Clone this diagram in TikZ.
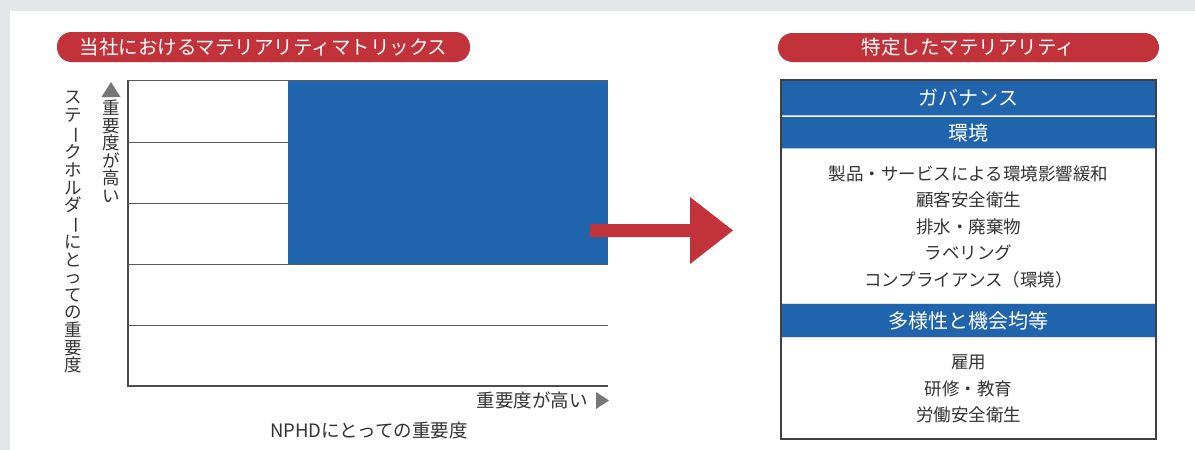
\documentclass[tikz,border=0pt]{standalone}
\usepackage{fontspec}
\newfontfamily\jp{Noto Sans CJK JP}
\definecolor{bgGray}{HTML}{E5E6E8}
\definecolor{hdRed}{HTML}{C1323A}
\definecolor{mBlue}{HTML}{2064AE}
\definecolor{txt}{HTML}{333333}
\definecolor{lineGray}{HTML}{5A5A5A}
\definecolor{triGray}{HTML}{777777}
\definecolor{sepBlue}{HTML}{A9C4E4}
\tikzset{
  pill/.style={fill=hdRed, rounded corners=14.5pt},
  pilltext/.style={text=white, font={\jp\fontsize{19.5}{20}\selectfont}, inner sep=0pt},
  band/.style={fill=mBlue},
  bandtext/.style={text=white, font={\jp\fontsize{20}{20}\selectfont}, inner sep=0pt},
  itemtext/.style={text=txt, font={\jp\fontsize{17.5}{18}\selectfont}, inner sep=0pt},
  gridline/.style={draw=lineGray, line width=0.8pt},
  axisline/.style={draw=lineGray!85!black, line width=1.1pt},
  vtext/.style={text=txt, align=center, inner sep=0pt},
}
\newcommand{\vbar}{\rotatebox[origin=c]{-90}{ー}}
\begin{document}
\begin{tikzpicture}[x=1pt,y=-1pt]
\useasboundingbox (0,0) rectangle (1195,450);
\fill[bgGray] (0,0) rectangle (1195,450);
\fill[white] (10,11) rectangle (1195,450);

% ---- left header ----
\fill[pill] (57,32) rectangle (470,62);
\node[pilltext] (lhead) at (263.5,47) {当社におけるマテリアリティマトリックス};

% ---- matrix ----
\fill[mBlue] (288,80) rectangle (608,264);
\draw[gridline] (128,80) -- (608,80);
\draw[gridline] (128,142) -- (288,142);
\draw[gridline] (128,203) -- (288,203);
\draw[gridline] (128,264) -- (608,264);
\draw[gridline] (128,325) -- (608,325);
\draw[axisline] (128,80) -- (128,386) -- (608,386);

% vertical axis labels
\fill[triGray] (101.5,97) -- (120.5,97) -- (111,82) -- cycle;
\node[vtext, anchor=north, font={\jp\fontsize{17.5}{17.5}\selectfont}] (yhigh) at (111,100)
  {重\\要\\度\\が\\高\\い};
\node[vtext, anchor=north, font={\jp\fontsize{17.5}{17.6}\selectfont}] (ylabel) at (73,91)
  {ス\\テ\\\vbar\\ク\\ホ\\ル\\ダ\\\vbar\\に\\と\\っ\\て\\の\\重\\要\\度};

% horizontal axis labels
\fill[triGray] (596,392) -- (596,409) -- (609,400.5) -- cycle;
\node[itemtext, anchor=east, font={\jp\fontsize{18.5}{19}\selectfont}] (xhigh) at (588,400.5) {重要度が高い};
\node[itemtext, font={\jp\fontsize{18.5}{19}\selectfont}] (xlabel) at (369,430) {NPHDにとっての重要度};

% ---- arrow ----
\fill[hdRed] (590,224) -- (690,224) -- (690,197) -- (733,230.5) -- (690,264) -- (690,237) -- (590,237) -- cycle;

% ---- right header ----
\fill[pill] (778,33) rectangle (1159,62);
\node[pilltext] (rhead) at (968.5,47.5) {特定したマテリアリティ};

% ---- right box ----
\fill[band] (781,80) rectangle (1156,115);
\fill[band] (781,116.5) rectangle (1156,148);
\draw[sepBlue, line width=1.2pt] (781,115.8) -- (1156,115.8);
\draw[sepBlue, line width=1.2pt] (781,148.6) -- (1156,148.6);
\fill[band] (781,304) rectangle (1156,337);
\draw[black!12, line width=0.8pt] (781,303.6) -- (1156,303.6);
\draw[black!12, line width=0.8pt] (781,337.4) -- (1156,337.4);
\draw[draw=black!75, line width=1.2pt] (781,80) rectangle (1156,439);

\node[bandtext] (gov) at (968.5,98) {ガバナンス};
\node[bandtext] (env) at (968.5,132.5) {環境};
\node[itemtext] (e1) at (968.5,173.5) {製品・サービスによる環境影響緩和};
\node[itemtext] (e2) at (968.5,200) {顧客安全衛生};
\node[itemtext] (e3) at (968.5,226.5) {排水・廃棄物};
\node[itemtext] (e4) at (968.5,253) {ラベリング};
\node[itemtext] (e5) at (968.5,279.5) {コンプライアンス（環境）};
\node[bandtext] (div) at (968.5,320.5) {多様性と機会均等};
\node[itemtext] (d1) at (968.5,362) {雇用};
\node[itemtext] (d2) at (968.5,388.5) {研修・教育};
\node[itemtext] (d3) at (968.5,415) {労働安全衛生};
\end{tikzpicture}
\end{document}
